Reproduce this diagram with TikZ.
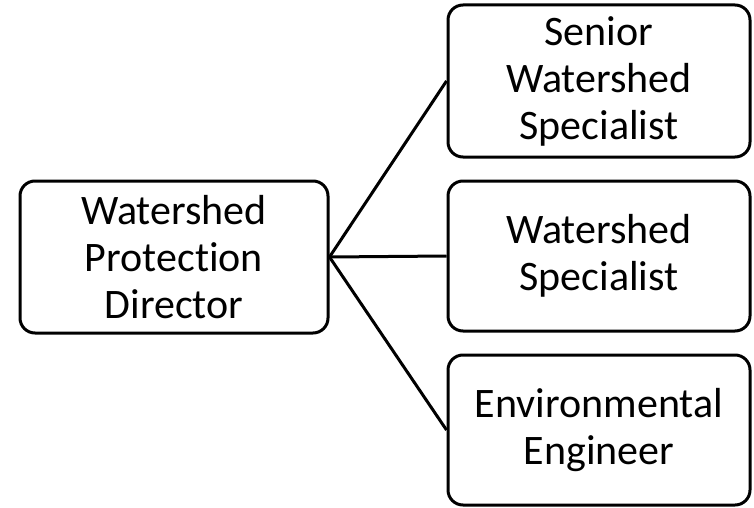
\documentclass[tikz,border=0pt]{standalone}
\usepackage{fontspec}
\setmainfont[Ligatures={NoCommon}]{Carlito}
\begin{document}
\begin{tikzpicture}[x=1pt,y=-1pt,
  box/.style={draw=black, line width=3pt, rounded corners=15pt, fill=white,
    align=center, inner sep=0pt, font=\fontsize{42}{47}\selectfont},
  link/.style={draw=black, line width=3pt}]
\useasboundingbox (0,0) rectangle (754,508);
\node[box, minimum width=308pt, minimum height=152pt] (dir) at (174,257) {Watershed\\Protection\\Director};
\node[box, minimum width=302pt, minimum height=152pt] (sen) at (599,81) {Senior\\Watershed\\Specialist};
\node[box, minimum width=302pt, minimum height=150pt] (spe) at (599,256) {Watershed\\Specialist};
\node[box, minimum width=302pt, minimum height=150pt] (env) at (599,430) {Environmental\\Engineer};
\draw[link] (dir.east) -- (sen.west);
\draw[link] (dir.east) -- (spe.west);
\draw[link] (dir.east) -- (env.west);
\end{tikzpicture}
\end{document}
